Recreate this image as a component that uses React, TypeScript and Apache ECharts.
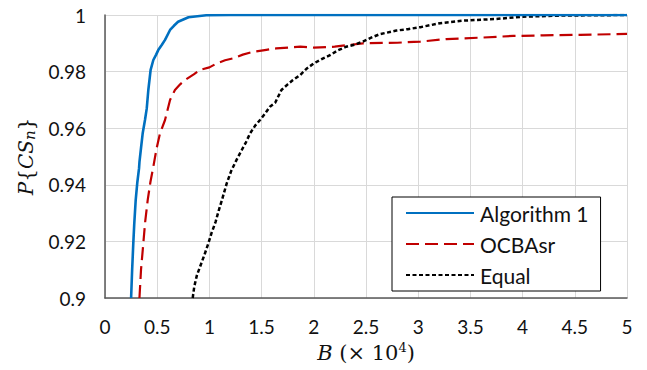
import React, { useEffect, useRef } from "react";
import * as echarts from "echarts";

// Data: [B (x10^4), P{CS_n}]
const algorithm1: [number, number][] = [
  [0.25, 0.9], [0.26, 0.91], [0.271, 0.9193], [0.28, 0.926], [0.294, 0.9346], [0.31, 0.941],
  [0.326, 0.9458], [0.33, 0.948], [0.345, 0.953], [0.361, 0.9582], [0.383, 0.9629], [0.4, 0.967],
  [0.415, 0.9735], [0.437, 0.9806], [0.463, 0.9841], [0.49, 0.986], [0.51, 0.9876], [0.545, 0.9895],
  [0.575, 0.9912], [0.623, 0.9947], [0.66, 0.9962], [0.7, 0.9976], [0.8, 0.9992], [0.97, 0.9999],
  [1.2, 1.0], [5.0, 1.0],
];

const ocbasr: [number, number][] = [
  [0.33, 0.9], [0.345, 0.91], [0.367, 0.9193], [0.385, 0.927], [0.409, 0.9346], [0.435, 0.941],
  [0.463, 0.9464], [0.495, 0.953], [0.527, 0.9582], [0.575, 0.9629], [0.623, 0.97], [0.67, 0.9735],
  [0.72, 0.9755], [0.766, 0.977], [0.85, 0.979], [0.91, 0.9806], [1.0, 0.9815], [1.07, 0.9829],
  [1.15, 0.984], [1.23, 0.9847], [1.32, 0.986], [1.42, 0.987], [1.53, 0.9876], [1.64, 0.9882],
  [1.87, 0.9888], [2.0, 0.9885], [2.2, 0.9888], [2.47, 0.99], [2.8, 0.9902], [3.02, 0.9906],
  [3.27, 0.9915], [3.6, 0.992], [3.91, 0.9926], [4.2, 0.9928], [4.55, 0.993], [5.0, 0.9933],
];

const equal: [number, number][] = [
  [0.84, 0.9], [0.855, 0.904], [0.88, 0.908], [0.91, 0.911], [0.95, 0.915], [0.99, 0.9193],
  [1.02, 0.9229], [1.06, 0.927], [1.09, 0.931], [1.12, 0.9346], [1.166, 0.9405], [1.21, 0.945],
  [1.26, 0.9488], [1.31, 0.9523], [1.35, 0.955], [1.39, 0.9582], [1.44, 0.961], [1.485, 0.9629],
  [1.53, 0.965], [1.58, 0.9676], [1.63, 0.969], [1.69, 0.9735], [1.75, 0.9755], [1.8, 0.977],
  [1.87, 0.9788], [1.93, 0.981], [2.0, 0.9829], [2.08, 0.9845], [2.16, 0.9859], [2.23, 0.9875],
  [2.31, 0.9888], [2.39, 0.9895], [2.47, 0.9906], [2.55, 0.992], [2.63, 0.9932], [2.79, 0.9945],
  [2.9, 0.995], [3.02, 0.9957], [3.21, 0.9971], [3.43, 0.998], [3.75, 0.9986], [4.0, 0.9994],
  [4.39, 0.9998], [5.0, 1.0],
];

const seriesNames = ["Algorithm 1", "OCBAsr", "Equal"];
const xRange = { min: 0, max: 5, interval: 0.5 };
const yRange = { min: 0.9, max: 1, interval: 0.02 };

const TICK_FONT = "Lato, 'Liberation Sans', sans-serif";
const MATH_FONT = "'DejaVu Serif', 'Liberation Serif', serif";

export default function App() {
  const ref = useRef<HTMLDivElement>(null);
  useEffect(() => {
    if (!ref.current) return;
    const chart = echarts.init(ref.current, undefined, { renderer: "svg" });
    chart.setOption({
      animation: false,
      backgroundColor: "#ffffff",
      grid: { left: 105, right: 20, top: 15, bottom: 72, containLabel: false, outerBoundsMode: "none" },
      legend: {
        orient: "vertical",
        left: 392,
        top: 197,
        padding: [4, 12, 4, 13],
        itemWidth: 68,
        itemHeight: 14,
        itemGap: 7,
        backgroundColor: "#ffffff",
        borderColor: "#000000",
        borderWidth: 1,
        borderRadius: 0,
        itemStyle: { opacity: 0, borderWidth: 0 },
        textStyle: { fontFamily: TICK_FONT, fontSize: 21, color: "#111", lineHeight: 24, padding: [0, 0, 0, 1] },
        data: seriesNames,
      },
      xAxis: {
        type: "value",
        min: xRange.min,
        max: xRange.max,
        interval: xRange.interval,
        axisLine: { show: true, onZero: false, lineStyle: { color: "#595959", width: 1.5 } },
        axisTick: { show: false },
        splitLine: { show: true, lineStyle: { color: "#d9d9d9", width: 1 } },
        axisLabel: {
          margin: 19,
          fontFamily: TICK_FONT,
          fontSize: 19,
          color: "#111",
          formatter: (v: number) => String(+v.toFixed(2)),
        },
        name: "{i|B} (× 10{sup|4})",
        nameLocation: "middle",
        nameGap: 43,
        nameTextStyle: {
          fontFamily: MATH_FONT,
          fontSize: 21,
          color: "#111",
          rich: {
            i: { fontFamily: MATH_FONT, fontSize: 21, fontStyle: "italic", color: "#111" },
            sup: { fontFamily: MATH_FONT, fontSize: 13, color: "#111", padding: [0, 0, 10, 0] },
          },
        },
      },
      yAxis: {
        type: "value",
        min: yRange.min,
        max: yRange.max,
        interval: yRange.interval,
        axisLine: { show: true, lineStyle: { color: "#595959", width: 1.5 } },
        axisTick: { show: false },
        splitLine: { show: true, lineStyle: { color: "#d9d9d9", width: 1 } },
        axisLabel: {
          margin: 19,
          fontFamily: TICK_FONT,
          fontSize: 19,
          color: "#111",
          formatter: (v: number) => String(+v.toFixed(2)),
        },
        name: "{i|P}{{i|CS}{sub|n}}",
        nameLocation: "middle",
        nameGap: 65,
        nameTextStyle: {
          fontFamily: MATH_FONT,
          fontSize: 20,
          color: "#111",
          rich: {
            i: { fontFamily: MATH_FONT, fontSize: 20, fontStyle: "italic", color: "#111" },
            sub: { fontFamily: MATH_FONT, fontSize: 15, fontStyle: "italic", color: "#111", padding: [8, 0, 0, 0] },
          },
        },
      },
      series: [
        {
          name: seriesNames[0],
          type: "line",
          data: algorithm1,
          symbol: "none",
          z: 5,
          lineStyle: { color: "#0070C0", width: 2.6, type: "solid" },
          itemStyle: { color: "#0070C0" },
        },
        {
          name: seriesNames[1],
          type: "line",
          data: ocbasr,
          symbol: "none",
          z: 3,
          lineStyle: { color: "#C00000", width: 2.2, type: [13, 6] },
          itemStyle: { color: "#C00000" },
        },
        {
          name: seriesNames[2],
          type: "line",
          data: equal,
          symbol: "none",
          z: 4,
          lineStyle: { color: "#000000", width: 2.5, type: [4, 2.5] },
          itemStyle: { color: "#000000" },
        },
      ],
    });
    return () => chart.dispose();
  }, []);
  return (
    <div
      ref={ref}
      style={{ position: "fixed", left: 0, top: 0, width: 647, height: 370, background: "#fff" }}
    />
  );
}
